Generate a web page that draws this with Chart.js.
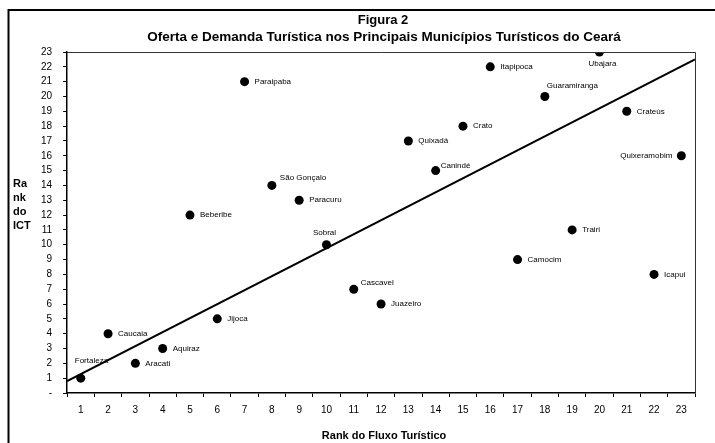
<!DOCTYPE html>
<html>
<head>
<meta charset="utf-8">
<script src="https://cdn.jsdelivr.net/npm/chart.js@4/dist/chart.umd.min.js"></script>
<style>
  body { margin: 0; background: #fff; }
  canvas { display: block; }
</style>
</head>
<body>
<canvas id="canvas" width="715" height="443"></canvas>
<script>
// municipios, rank do fluxo turistico (x) e rank do ICT (y)
const municipios = ['Fortaleza', 'Caucaia', 'Aracati', 'Aquiraz', 'Beberibe', 'Jijoca', 'Paraipaba',
  'São Gonçalo', 'Paracuru', 'Sobral', 'Cascavel', 'Juazeiro', 'Quixadá', 'Canindé', 'Crato',
  'Itapipoca', 'Camocim', 'Guaramiranga', 'Trairi', 'Ubajara', 'Crateús', 'Icapui', 'Quixeramobim'];
const rankFluxo = [1, 2, 3, 4, 5, 6, 7, 8, 9, 10, 11, 12, 13, 14, 15, 16, 17, 18, 19, 20, 21, 22, 23];
const rankICT = [1, 4, 2, 3, 12, 5, 21, 14, 13, 10, 7, 6, 17, 15, 18, 22, 9, 20, 11, 23, 19, 8, 16];
const xLabels = ['1','2','3','4','5','6','7','8','9','10','11','12','13','14','15','16','17','18','19','20','21','22','23'];
// reta de tendencia (extremos)
const trendX = [0.5, 23.5];
const trendY = [0.8, 22.5];

const titulo = ['Figura 2', 'Oferta e Demanda Turística nos Principais Municípios Turísticos do Ceará'];
const tituloY = ['Ra', 'nk', 'do', 'ICT'];
const tituloX = 'Rank do Fluxo Turístico';

// onde cada rotulo fica em relacao ao ponto (padrao: a direita)
const labelPos = {
  'Fortaleza': { dx: -6, dy: -17, align: 'left' },
  'São Gonçalo': { dx: 8, dy: -8, align: 'left' },
  'Sobral': { dx: -2, dy: -12, align: 'center' },
  'Cascavel': { dx: 7, dy: -6, align: 'left' },
  'Canindé': { dx: 5, dy: -5, align: 'left' },
  'Guaramiranga': { dx: 2, dy: -11, align: 'left' },
  'Ubajara': { dx: 3, dy: 12, align: 'center' },
  'Quixeramobim': { dx: -9, dy: 0, align: 'right' }
};

const pontos = rankFluxo.map((x, i) => ({ x: x, y: rankICT[i] }));
const reta = trendX.map((x, i) => ({ x: x, y: trendY[i] }));

const extras = {
  id: 'extras',
  afterDraw(chart) {
    const ctx = chart.ctx;
    const a = chart.chartArea;
    ctx.save();
    // moldura externa
    ctx.strokeStyle = '#000';
    ctx.lineWidth = 2;
    ctx.beginPath();
    ctx.moveTo(8.5, 460);
    ctx.lineTo(8.5, 10);
    ctx.lineTo(730, 10);
    ctx.stroke();
    // bordas de cima e direita da area
    ctx.lineWidth = 1;
    ctx.strokeStyle = '#333';
    ctx.beginPath();
    ctx.moveTo(a.left, a.top + 0.5);
    ctx.lineTo(a.right + 0.5, a.top + 0.5);
    ctx.lineTo(a.right + 0.5, a.bottom);
    ctx.stroke();

    ctx.fillStyle = '#000';
    ctx.textBaseline = 'middle';
    ctx.textAlign = 'center';
    const cx = (a.left + a.right) / 2;
    ctx.font = 'bold 13px "Liberation Sans", Arial, sans-serif';
    ctx.fillText(titulo[0], cx + 2, 20);
    ctx.font = 'bold 13.5px "Liberation Sans", Arial, sans-serif';
    ctx.fillText(titulo[1], cx + 3, 37);

    ctx.font = 'bold 11px "Liberation Sans", Arial, sans-serif';
    ctx.fillText(tituloX, cx + 3, 436);
    ctx.textAlign = 'left';
    tituloY.forEach((t, i) => ctx.fillText(t, 13, 184 + i * 14));
    ctx.restore();
  },
  afterDatasetsDraw(chart) {
    const ctx = chart.ctx;
    const meta = chart.getDatasetMeta(0);
    ctx.save();
    ctx.fillStyle = '#000';
    ctx.font = '8px "Liberation Sans", Arial, sans-serif';
    ctx.textBaseline = 'middle';
    meta.data.forEach((el, i) => {
      const nome = municipios[i];
      const p = labelPos[nome] || { dx: 10, dy: 0, align: 'left' };
      ctx.textAlign = p.align;
      ctx.fillText(nome, el.x + p.dx, el.y + p.dy);
    });
    ctx.restore();
  }
};

const ctx = document.getElementById('canvas').getContext('2d');
const chart = new Chart(ctx, {
  type: 'scatter',
  data: {
    datasets: [{
      label: 'Municípios',
      data: pontos,
      xAxisID: 'x',
      yAxisID: 'y',
      backgroundColor: '#000',
      borderWidth: 0,
      pointRadius: 4.5,
      pointHoverRadius: 4.5
    }, {
      type: 'line',
      label: 'Tendência',
      data: reta,
      xAxisID: 'x',
      yAxisID: 'y',
      borderColor: '#000',
      borderWidth: 2,
      pointRadius: 0,
      fill: false
    }]
  },
  options: {
    responsive: false,
    animation: false,
    devicePixelRatio: 1,
    layout: {
      padding: { top: 52, right: 20, bottom: 20, left: 30 }
    },
    plugins: {
      legend: { display: false },
      title: { display: false },
      tooltip: { enabled: false }
    },
    scales: {
      x: {
        type: 'linear',
        display: false,
        min: 0.5,
        max: 23.5
      },
      xc: {
        type: 'category',
        position: 'bottom',
        labels: xLabels,
        offset: true,
        grid: {
          offset: true,
          drawOnChartArea: false,
          tickLength: 4,
          color: '#000'
        },
        border: { display: true, color: '#000', width: 1.5 },
        ticks: {
          color: '#000',
          padding: 7,
          maxRotation: 0,
          autoSkip: false,
          font: { family: '"Liberation Sans", Arial, sans-serif', size: 10 }
        }
      },
      y: {
        type: 'linear',
        min: 0,
        max: 23,
        grid: {
          drawOnChartArea: false,
          tickLength: 4,
          color: '#000'
        },
        border: { display: true, color: '#000', width: 1.5 },
        ticks: {
          stepSize: 1,
          autoSkip: false,
          color: '#000',
          padding: 11,
          font: { family: '"Liberation Sans", Arial, sans-serif', size: 10 },
          callback: (v) => v === 0 ? '-' : v
        }
      }
    }
  },
  plugins: [extras]
});
</script>
</body>
</html>
